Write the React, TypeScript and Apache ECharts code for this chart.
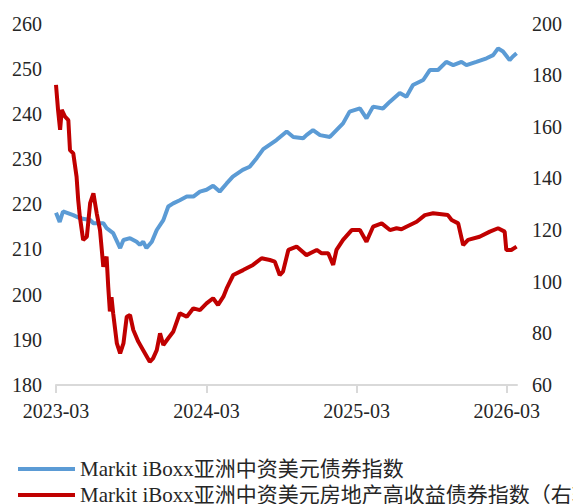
import React, { useEffect, useRef } from "react";
import * as echarts from "echarts";

const xTickLabels = ["2023-03", "2024-03", "2025-03", "2026-03"];
const xMin = "2023-03-01";
const xMax = "2026-03-26";

const seriesNames = [
  "Markit iBoxx亚洲中资美元债券指数",
  "Markit iBoxx亚洲中资美元房地产高收益债券指数（右轴）",
];

const blueDates = [
  "2023-03-01", "2023-03-10", "2023-03-18", "2023-04-12", "2023-04-28", "2023-05-23", "2023-05-31",
  "2023-06-24", "2023-07-02", "2023-07-18", "2023-08-04", "2023-08-12", "2023-08-28", "2023-09-13",
  "2023-09-21", "2023-09-29", "2023-10-07", "2023-10-20", "2023-11-01", "2023-11-17", "2023-11-29",
  "2023-12-11", "2023-12-27", "2024-01-13", "2024-01-29", "2024-02-14", "2024-03-01", "2024-03-17",
  "2024-04-02", "2024-04-19", "2024-05-04", "2024-05-28", "2024-06-14", "2024-07-01", "2024-07-17",
  "2024-08-18", "2024-09-12", "2024-09-28", "2024-10-22", "2024-10-30", "2024-11-15", "2024-12-02",
  "2024-12-26", "2025-01-11", "2025-01-27", "2025-02-12", "2025-03-09", "2025-03-25", "2025-04-10",
  "2025-05-04", "2025-05-21", "2025-06-14", "2025-06-30", "2025-07-16", "2025-08-10", "2025-08-26",
  "2025-09-15", "2025-10-05", "2025-10-22", "2025-11-11", "2025-11-23", "2025-12-17", "2026-01-11",
  "2026-01-27", "2026-02-08", "2026-02-20", "2026-03-08", "2026-03-16", "2026-03-25",
];
const blueValues = [
  218.1, 216.1, 218.4, 217.6, 216.9, 216.5, 215.8,
  215.8, 214.7, 213.6, 210.3, 212.1, 212.5, 211.7,
  211.0, 211.7, 210.3, 211.7, 214.3, 216.5, 219.5,
  220.2, 220.9, 221.7, 221.7, 222.8, 223.2, 224.1,
  222.8, 224.6, 226.1, 227.6, 228.3, 230.2, 232.2,
  234.2, 236.1, 234.9, 234.6, 235.3, 236.4, 235.3,
  234.9, 236.4, 237.9, 240.5, 241.2, 239.0, 241.6,
  241.2, 242.7, 244.6, 243.8, 246.4, 247.5, 249.7,
  249.7, 251.5, 250.8, 251.5, 250.8, 251.5, 252.3,
  253.0, 254.5, 253.8, 251.9, 252.7, 253.4,
];

const redDates = [
  "2023-03-01", "2023-03-06", "2023-03-11", "2023-03-15", "2023-03-23", "2023-03-31", "2023-04-04",
  "2023-04-12", "2023-04-20", "2023-04-24", "2023-04-28", "2023-05-06", "2023-05-15", "2023-05-23",
  "2023-05-31", "2023-06-08", "2023-06-16", "2023-06-24", "2023-07-02", "2023-07-06", "2023-07-10",
  "2023-07-14", "2023-07-18", "2023-07-27", "2023-08-04", "2023-08-12", "2023-08-20", "2023-08-28",
  "2023-09-05", "2023-09-17", "2023-09-29", "2023-10-15", "2023-10-23", "2023-11-01", "2023-11-09",
  "2023-11-17", "2023-11-29", "2023-12-11", "2023-12-27", "2024-01-13", "2024-01-29", "2024-02-14",
  "2024-03-01", "2024-03-17", "2024-03-29", "2024-04-11", "2024-04-19", "2024-05-05", "2024-05-29",
  "2024-06-22", "2024-07-13", "2024-08-02", "2024-08-14", "2024-08-26", "2024-09-03", "2024-09-16",
  "2024-10-06", "2024-10-30", "2024-11-24", "2024-12-06", "2024-12-22", "2025-01-03", "2025-01-11",
  "2025-01-27", "2025-02-17", "2025-03-09", "2025-03-25", "2025-04-10", "2025-05-01", "2025-05-21",
  "2025-06-06", "2025-06-18", "2025-06-30", "2025-07-25", "2025-08-14", "2025-09-03", "2025-10-09",
  "2025-10-18", "2025-11-03", "2025-11-15", "2025-11-27", "2025-12-25", "2026-01-19", "2026-02-08",
  "2026-02-24", "2026-02-28", "2026-03-12", "2026-03-25",
];
const redValues = [
  176.2, 166.5, 158.8, 166.5, 163.9, 162.6, 151.0,
  149.7, 140.7, 131.6, 125.2, 116.2, 117.4, 130.4,
  134.2, 126.5, 120.0, 105.8, 109.7, 98.1, 88.5,
  94.0, 87.8, 76.1, 72.3, 76.1, 86.4, 87.1,
  81.3, 76.8, 73.5, 69.0, 70.3, 73.5, 80.0,
  75.5, 78.1, 80.6, 87.8, 86.4, 89.7, 89.0,
  91.6, 93.6, 91.0, 94.2, 97.4, 102.6, 104.5,
  106.5, 109.1, 108.4, 107.8, 102.6, 103.9, 112.3,
  113.6, 110.3, 112.3, 111.0, 111.0, 106.5, 112.3,
  116.2, 120.0, 120.0, 115.5, 121.3, 122.6, 120.0,
  120.7, 120.3, 121.3, 123.2, 125.8, 126.5, 125.8,
  123.9, 122.6, 114.2, 116.2, 117.4, 119.4, 120.7,
  119.4, 112.3, 112.3, 113.6,
];

const FONT = "Liberation Serif, Noto Sans CJK SC, serif";

function toTs(s: string): number {
  const [y, m, d] = s.split("-").map(Number);
  return Date.UTC(y, m - 1, d || 1);
}

export default function App() {
  const ref = useRef<HTMLDivElement>(null);
  useEffect(() => {
    if (!ref.current) return;
    const chart = echarts.init(ref.current, undefined, { renderer: "svg" });
    const tickValues = xTickLabels.map((l) => toTs(l + "-01"));
    const legendBase = {
      orient: "horizontal",
      left: 18,
      icon: "rect",
      itemWidth: 57,
      itemHeight: 4,
      padding: 0,
      textStyle: { fontSize: 21, fontFamily: FONT, color: "#262626", lineHeight: 22 },
    };
    chart.setOption({
      animation: false,
      backgroundColor: "#ffffff",
      grid: { left: 56, right: 56, top: 23.5, bottom: 119, containLabel: false },
      legend: [
        { ...legendBase, top: 458, data: [seriesNames[0]] },
        { ...legendBase, top: 484, data: [seriesNames[1]] },
      ],
      xAxis: {
        type: "value",
        min: toTs(xMin),
        max: toTs(xMax),
        axisLine: { show: true, lineStyle: { color: "#d9d9d9", width: 2 } },
        axisTick: { show: true, length: 8, lineStyle: { color: "#d9d9d9", width: 2 }, customValues: tickValues },
        axisLabel: {
          customValues: tickValues,
          margin: 16,
          fontSize: 20,
          fontFamily: FONT,
          color: "#262626",
          formatter: (v: number) => {
            const d = new Date(v);
            return `${d.getUTCFullYear()}-${String(d.getUTCMonth() + 1).padStart(2, "0")}`;
          },
        },
        splitLine: { show: false },
      },
      yAxis: [
        {
          type: "value",
          min: 180,
          max: 260,
          interval: 10,
          axisLine: { show: false },
          axisTick: { show: false },
          splitLine: { show: false },
          axisLabel: { margin: 14, fontSize: 20, fontFamily: FONT, color: "#262626" },
        },
        {
          type: "value",
          min: 60,
          max: 200,
          interval: 20,
          position: "right",
          axisLine: { show: false },
          axisTick: { show: false },
          splitLine: { show: false },
          axisLabel: { margin: 15, fontSize: 20, fontFamily: FONT, color: "#262626" },
        },
      ],
      series: [
        {
          name: seriesNames[0],
          type: "line",
          yAxisIndex: 0,
          showSymbol: false,
          color: "#5B9BD5",
          lineStyle: { width: 4, color: "#5B9BD5" },
          data: blueDates.map((d, i) => [toTs(d), blueValues[i]]),
        },
        {
          name: seriesNames[1],
          type: "line",
          yAxisIndex: 1,
          showSymbol: false,
          color: "#C00000",
          lineStyle: { width: 4, color: "#C00000" },
          data: redDates.map((d, i) => [toTs(d), redValues[i]]),
        },
      ],
    });
    return () => chart.dispose();
  }, []);
  return (
    <div
      ref={ref}
      style={{ position: "fixed", left: 0, top: 0, width: 573, height: 504, background: "#fff" }}
    />
  );
}
